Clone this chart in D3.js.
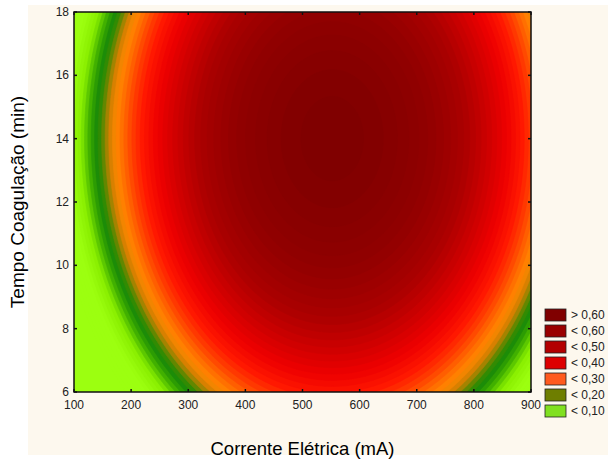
<!DOCTYPE html>
<html>
<head>
<meta charset="utf-8">
<script src="https://cdn.jsdelivr.net/npm/d3@7"></script>
<style>
  body { margin: 0; background: #ffffff; }
  text { font-family: "Liberation Sans", Arial, sans-serif; }
</style>
</head>
<body>
<script>
// axis ticks
const xTicks = [100, 200, 300, 400, 500, 600, 700, 800, 900];
const yTicks = [6, 8, 10, 12, 14, 16, 18];

// fitted quadratic surface z = b0 + b1*x + b2*y + b11*x^2 + b22*y^2
// (coefficients)
const modelTerms = ["b0", "x", "y", "x2", "y2"];
const modelCoef = [-1.686288, 0.004416, 0.188496, -0.000004, -0.006732];

// legend classes
const legendLabels = ["> 0,60", "< 0,60", "< 0,50", "< 0,40", "< 0,30", "< 0,20", "< 0,10"];
const legendColors = ["#800000", "#990000", "#b30000", "#dd0000", "#ff5a1e", "#6e7e00", "#80e020"];

// colour ramp of the fine contour levels
const rampValues = [0.00, 0.08, 0.11, 0.14, 0.17, 0.20, 0.22, 0.25, 0.28, 0.32, 0.36, 0.41, 0.48, 0.56, 0.64, 0.74, 0.85];
const rampColors = ["#9cff10", "#88ee00", "#5cc800", "#34a400", "#1c8c08", "#3c8a00", "#8a8400", "#d88000",
                    "#ff8800", "#ff6800", "#ff4000", "#ff1800", "#ee0000", "#cc0000", "#aa0000", "#920000", "#800000"];

let width = 608;
let height = 465;
let margin = {left: 74, right: 531, top: 12, bottom: 392};

let svg = d3.select("body")
    .append("svg")
    .attr("width", width)
    .attr("height", height);

// statistica window background
svg.append("rect")
    .attr("x", 28).attr("y", 5)
    .attr("width", width - 28).attr("height", 450)
    .attr("fill", "#fdf8ee");

let x = d3.scaleLinear().domain([100, 900]).range([margin.left, margin.right]);
let y = d3.scaleLinear().domain([6, 18]).range([margin.bottom, margin.top]);

let color = d3.scaleLinear().domain(rampValues).range(rampColors).clamp(true);

// evaluate the model on a grid
let xStep = 5, yStep = 0.1;
let nx = Math.round(800 / xStep) + 1;
let ny = Math.round(12 / yStep) + 1;
let values = new Array(nx * ny);
for (let j = 0; j < ny; j++) {
    for (let i = 0; i < nx; i++) {
        let xv = 100 + i * xStep, yv = 6 + j * yStep;
        values[j * nx + i] = modelCoef[0] + modelCoef[1] * xv + modelCoef[2] * yv
            + modelCoef[3] * xv * xv + modelCoef[4] * yv * yv;
    }
}

let thresholds = d3.range(-0.1, 0.9, 0.02);
let contours = d3.contours().size([nx, ny]).thresholds(thresholds)(values);

let proj = d3.geoTransform({
    point: function(px, py) {
        this.stream.point(x(100 + (px - 0.5) * xStep), y(6 + (py - 0.5) * yStep));
    }
});
let path = d3.geoPath().projection(proj);

svg.append("clipPath").attr("id", "plot")
    .append("rect")
    .attr("x", margin.left).attr("y", margin.top)
    .attr("width", margin.right - margin.left)
    .attr("height", margin.bottom - margin.top);

let g = svg.append("g").attr("clip-path", "url(#plot)");
g.append("rect")
    .attr("x", margin.left).attr("y", margin.top)
    .attr("width", margin.right - margin.left)
    .attr("height", margin.bottom - margin.top)
    .attr("fill", color(0));

g.selectAll("path")
    .data(contours)
    .enter()
    .append("path")
    .attr("d", path)
    .attr("fill", d => color(d.value + 0.01))
    .attr("stroke", d => color(d.value + 0.01))
    .attr("stroke-width", 0.6);

// frame
svg.append("rect")
    .attr("x", margin.left).attr("y", margin.top)
    .attr("width", margin.right - margin.left)
    .attr("height", margin.bottom - margin.top)
    .attr("fill", "none")
    .attr("stroke", "#111")
    .attr("stroke-width", 1.5);

// inside ticks on all sides
let ticks = svg.append("g").attr("stroke", "#111").attr("stroke-width", 1.5);
xTicks.forEach(function(t) {
    ticks.append("line").attr("x1", x(t)).attr("x2", x(t)).attr("y1", margin.bottom).attr("y2", margin.bottom - 3);
    ticks.append("line").attr("x1", x(t)).attr("x2", x(t)).attr("y1", margin.top).attr("y2", margin.top + 3);
});
yTicks.forEach(function(t) {
    ticks.append("line").attr("x1", margin.left).attr("x2", margin.left + 3).attr("y1", y(t)).attr("y2", y(t));
    ticks.append("line").attr("x1", margin.right).attr("x2", margin.right - 3).attr("y1", y(t)).attr("y2", y(t));
});

// tick labels
svg.append("g").selectAll("text")
    .data(xTicks)
    .enter()
    .append("text")
    .attr("x", d => x(d))
    .attr("y", 409)
    .attr("text-anchor", "middle")
    .attr("font-size", 12)
    .attr("fill", "#222")
    .text(d => d);

svg.append("g").selectAll("text")
    .data(yTicks)
    .enter()
    .append("text")
    .attr("x", 69)
    .attr("y", d => y(d) + 4)
    .attr("text-anchor", "end")
    .attr("font-size", 12)
    .attr("fill", "#222")
    .text(d => d);

// axis titles
svg.append("text")
    .attr("x", (margin.left + margin.right) / 2)
    .attr("y", 455)
    .attr("text-anchor", "middle")
    .attr("font-size", 18.5)
    .text("Corrente Elétrica (mA)");

svg.append("text")
    .attr("transform", "translate(24," + ((margin.top + margin.bottom) / 2) + ") rotate(-90)")
    .attr("text-anchor", "middle")
    .attr("font-size", 19)
    .text("Tempo Coagulação (min)");

// legend
let legend = svg.append("g");
legendLabels.forEach(function(l, i) {
    let cy = 315 + i * 16;
    legend.append("rect")
        .attr("x", 545).attr("y", cy - 6)
        .attr("width", 21).attr("height", 12)
        .attr("fill", legendColors[i])
        .attr("stroke", "#222")
        .attr("stroke-width", 0.8);
    legend.append("text")
        .attr("x", 571).attr("y", cy + 4)
        .attr("font-size", 12)
        .attr("fill", "#222")
        .text(l);
});
</script>
</body>
</html>
